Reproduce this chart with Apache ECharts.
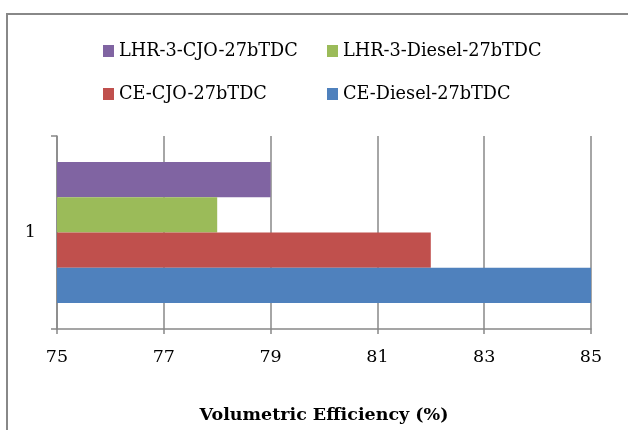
<!DOCTYPE html>
<html><head><meta charset="utf-8">
<script src="https://cdn.jsdelivr.net/npm/echarts@6/dist/echarts.min.js"></script>
<style>html,body{margin:0;padding:0;background:#fff}#c{width:628px;height:430px}</style>
</head><body><div id="c"></div>
<script>
const categories = ['1'];
const seriesNames = ['LHR-3-CJO-27bTDC', 'LHR-3-Diesel-27bTDC', 'CE-CJO-27bTDC', 'CE-Diesel-27bTDC'];
const lhrCjo = [79];
const lhrDiesel = [78];
const ceCjo = [82];
const ceDiesel = [85];
const colors = ['#8064A2', '#9BBB59', '#C0504D', '#4F81BD'];
const xMin = 75, xMax = 85, xStep = 2;
const xTitle = 'Volumetric Efficiency (%)';
const font = 'DejaVu Serif';
const values = [lhrCjo, lhrDiesel, ceCjo, ceDiesel];

const chart = echarts.init(document.getElementById('c'), null, {renderer: 'canvas'});
const legendStyle = {
  orient: 'vertical', top: 42, padding: 0, itemWidth: 11, itemHeight: 12, itemGap: 25,
  icon: 'rect',
  textStyle: {fontFamily: font, fontSize: 17.7, color: '#000', lineHeight: 18}
};
chart.setOption({
  animation: false,
  color: colors,
  graphic: [{type: 'rect', shape: {x: 7, y: 14, width: 700, height: 500},
    style: {fill: 'none', stroke: '#888', lineWidth: 2}, silent: true}],
  legend: [
    Object.assign({left: 103, data: [seriesNames[0], seriesNames[2]]}, legendStyle),
    Object.assign({left: 327, data: [seriesNames[1], seriesNames[3]]}, legendStyle)
  ],
  grid: {left: 57, right: 37, top: 136, bottom: 101, containLabel: false},
  xAxis: {
    type: 'value', min: xMin, max: xMax, interval: xStep,
    name: xTitle, nameLocation: 'middle', nameGap: 77,
    nameTextStyle: {fontFamily: font, fontSize: 17.5, fontWeight: 'bold', color: '#000'},
    axisLine: {show: true, lineStyle: {color: '#888', width: 1.5}},
    axisTick: {show: true, length: 5, lineStyle: {color: '#888', width: 1.5}},
    axisLabel: {fontFamily: font, fontSize: 17.5, color: '#000', margin: 19},
    splitLine: {show: true, lineStyle: {color: '#888', width: 1.5}}
  },
  yAxis: {
    type: 'category', data: categories,
    axisLine: {show: true, lineStyle: {color: '#888', width: 1.5}},
    axisTick: {show: true, length: 6, lineStyle: {color: '#888', width: 1.5}},
    axisLabel: {fontFamily: font, fontSize: 17.5, color: '#000', margin: 21}
  },
  series: seriesNames.map((n, i) => ({
    name: n, type: 'bar', data: values[i], barGap: '0%', barCategoryGap: '27%',
    itemStyle: {color: colors[i]}
  }))
});
</script></body></html>
